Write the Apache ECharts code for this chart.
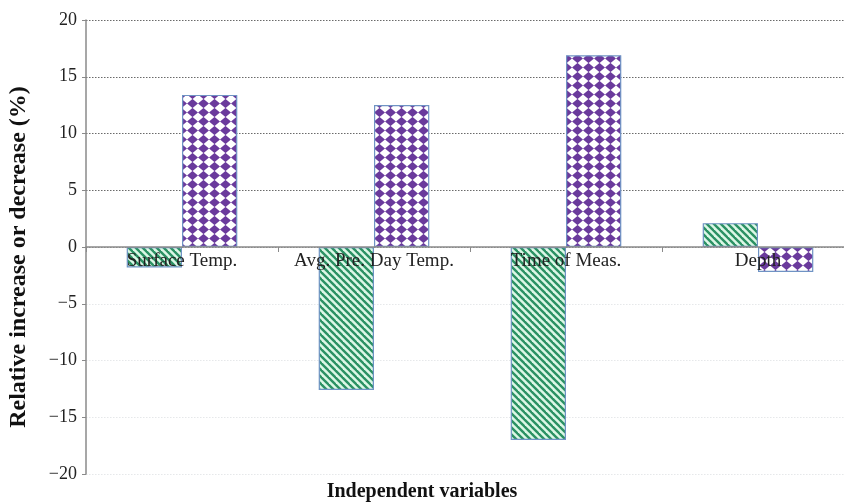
<!DOCTYPE html>
<html><head><meta charset="utf-8">
<script src="https://cdn.jsdelivr.net/npm/echarts@6/dist/echarts.min.js"></script>
<style>html,body{margin:0;padding:0;background:#fff}#c{width:844px;height:502px}</style>
</head><body><div id="c"></div>
<script>
const categories = ['Surface Temp.', 'Avg. Pre. Day Temp.', 'Time of Meas.', 'Depth'];
const seriesA = [-1.8, -12.6, -17.0, 2.1];
const seriesB = [13.4, 12.5, 16.9, -2.2];
const yTicks = { min: -20, max: 20, interval: 5 };
const xName = 'Independent variables';
const yName = 'Relative increase or decrease (%)';

function stripes() {
  const c = document.createElement('canvas');
  c.width = 7; c.height = 7;
  const g = c.getContext('2d');
  g.fillStyle = '#dcf7e6'; g.fillRect(0, 0, 7, 7);
  g.strokeStyle = '#2b9163'; g.lineWidth = 2.4;
  for (let k = -7; k <= 14; k += 7) {
    g.beginPath(); g.moveTo(k - 7, -7); g.lineTo(k + 14, 14); g.stroke();
  }
  return c;
}
function diamonds() {
  const w = 11, h = 9;
  const c = document.createElement('canvas');
  c.width = w; c.height = h;
  const g = c.getContext('2d');
  g.fillStyle = '#ffffff'; g.fillRect(0, 0, w, h);
  g.fillStyle = '#6a3a9c';
  const cx = w / 2, cy = h / 2, rx = 5.6, ry = 4.6;
  g.beginPath();
  g.moveTo(cx, cy - ry); g.lineTo(cx + rx, cy); g.lineTo(cx, cy + ry); g.lineTo(cx - rx, cy);
  g.closePath(); g.fill();
  return c;
}

const chart = echarts.init(document.getElementById('c'));
const serif = '"Liberation Serif", "DejaVu Serif", serif';
chart.setOption({
  animation: false,
  grid: { left: 86, right: -10, top: 20, bottom: 28, containLabel: false, outerBoundsMode: 'none' },
  graphic: [{
    type: 'text', left: 'center', top: 482,
    style: { text: xName, font: 'bold 20px ' + serif, fill: '#111' }
  }],
  xAxis: {
    type: 'category', data: categories,
    offset: -227, z: 10,
    axisLine: { onZero: false, lineStyle: { color: '#8a8a8a', width: 1.5 } },
    axisTick: { show: true, length: 5, inside: false, lineStyle: { color: '#8a8a8a' } },
    axisLabel: { interval: 0, hideOverlap: false, fontFamily: serif, fontSize: 19, color: '#222', margin: 5 },
    splitLine: { show: false }
  },
  yAxis: {
    type: 'value', min: yTicks.min, max: yTicks.max, interval: yTicks.interval,
    name: yName, nameLocation: 'middle', nameGap: 55, nameRotate: 90,
    nameTextStyle: { fontFamily: serif, fontWeight: 'bold', fontSize: 24, color: '#111', padding: [0, 0, 0, -20] },
    axisLine: { show: true, lineStyle: { color: '#8a8a8a', width: 1.5 } },
    axisTick: { show: true, length: 4, lineStyle: { color: '#8a8a8a' } },
    axisLabel: { fontFamily: serif, fontSize: 18, color: '#222', margin: 9,
      formatter: v => String(v).replace('-', '\u2212') },
    splitLine: { show: true, lineStyle: {
      color: ['#e6e8ea', '#e6e8ea', '#e6e8ea', '#e6e8ea', '#8a8a8a', '#6a6a6a', '#6a6a6a', '#6a6a6a', '#6a6a6a'],
      type: [1.5, 1.5], width: 1.2 } }
  },
  series: [
    { type: 'bar', data: seriesA, barWidth: '28.8%', barGap: '0%',
      itemStyle: { color: { image: stripes(), repeat: 'repeat' }, borderColor: '#6f93c4', borderWidth: 1.2 } },
    { type: 'bar', data: seriesB, barWidth: '28.8%', barGap: '0%',
      itemStyle: { color: { image: diamonds(), repeat: 'repeat' }, borderColor: '#6f93c4', borderWidth: 1.2 } }
  ]
});
</script></body></html>
